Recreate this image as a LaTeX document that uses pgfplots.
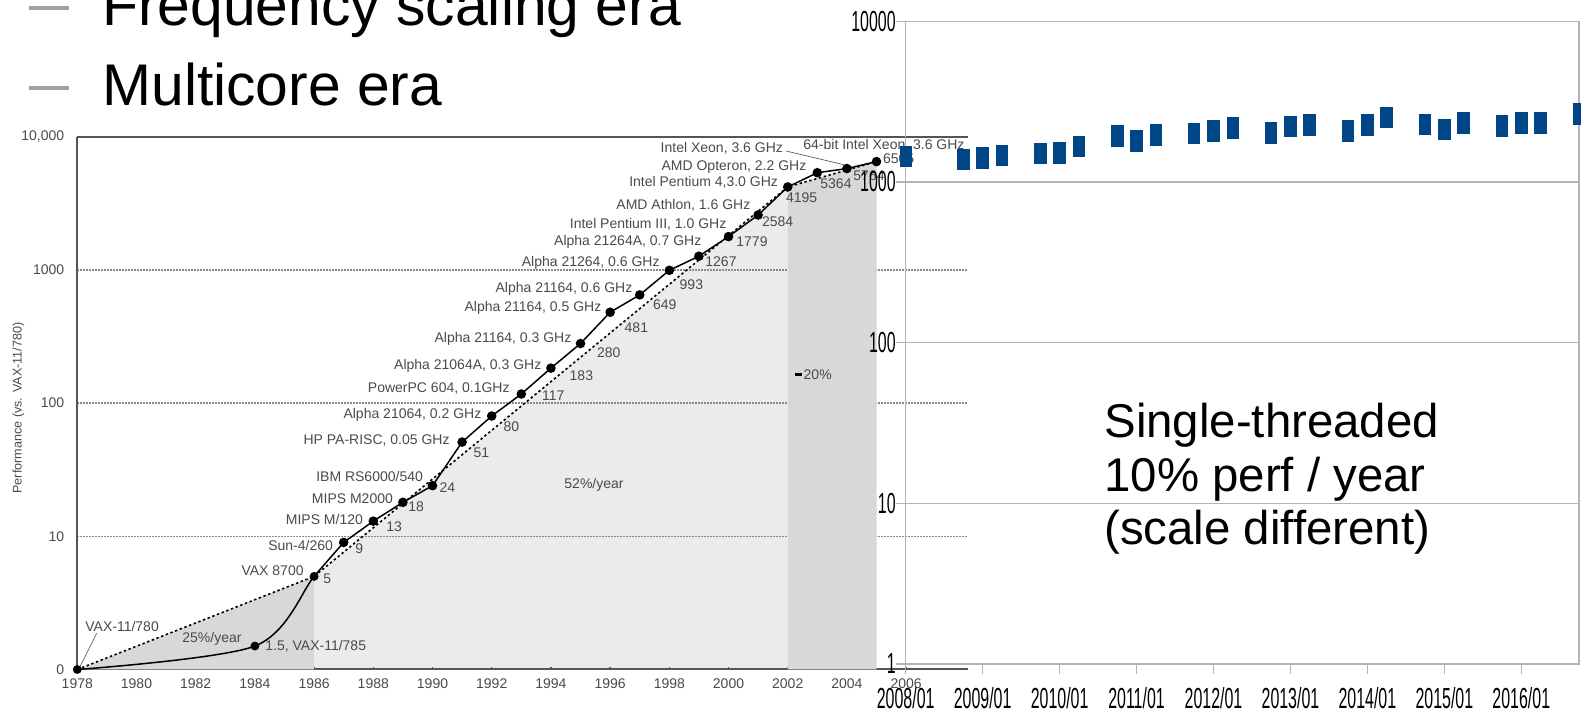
\documentclass[border=0pt]{standalone}
\usepackage{pgfplots}
\pgfplotsset{compat=1.18}
\usepackage{fontspec}
\setmainfont{Liberation Sans}
\newfontfamily\narrowfont[FakeStretch=0.55]{Liberation Sans}
\definecolor{lblgray}{HTML}{4A4A4A}
\definecolor{axgray}{HTML}{555555}
\definecolor{gridgray}{HTML}{8A8A8A}
\definecolor{lightfill}{HTML}{EBEBEB}
\definecolor{darkfill}{HTML}{D8D8D8}
\definecolor{rgray}{HTML}{B3B3B3}
\definecolor{barblue}{HTML}{004586}
\definecolor{dashgray}{HTML}{9EA3AA}
\tikzset{lbl/.style={inner sep=0pt, font=\fontsize{7}{8}\selectfont, text=lblgray}}
\begin{document}
\begin{tikzpicture}
% ---------------- left chart ----------------
\begin{axis}[
  at={(38.65pt,-334.75pt)}, anchor=south west,
  scale only axis, width=445.2pt, height=266.4pt,
  set layers,
  ymode=log, log basis y=10,
  xmin=1978, xmax=2008.08, ymin=1, ymax=10000,
  axis x line*=box, axis y line*=left,
  axis line style={draw=axgray, line width=1pt},
  xtick={1978,1980,1982,1984,1986,1988,1990,1992,1994,1996,1998,2000,2002,2004,2006},
  xticklabels={1978,1980,1982,1984,1986,1988,1990,1992,1994,1996,1998,2000,2002,2004,2006},
  ytick={1,10,100,1000,10000},
  yticklabels={0,10,100,1000,{10,000}},
  yminorticks=false,
  xtick pos=left,
  tick align=inside, major tick length=1.5pt,
  xtick style={draw=axgray, line width=0.7pt},
  ytick style={draw=none},
  ymajorgrids,
  grid style={draw=gridgray, line width=0.75pt, dash pattern=on 0.75pt off 0.75pt},
  tick label style={font=\fontsize{7}{8}\selectfont, text=lblgray},
  xticklabel style={yshift=-1pt},
  yticklabel style={xshift=-3pt},
  clip=false,
]
\addplot[draw=none, fill=lightfill, on layer=axis background] coordinates {(1986,1) (1986,5) (2002,4195) (2002,1)} -- cycle;
\addplot[draw=none, fill=darkfill] coordinates {(1978,1) (1986,5) (1986,1)} -- cycle;
\addplot[draw=none, fill=darkfill] coordinates {(2002,1) (2002,4195) (2005,6505) (2005,1)} -- cycle;
% trend lines
\addplot[black, line width=0.8pt, dash pattern=on 1.2pt off 1.3pt] coordinates {(1978,1) (1986,5) (2002,4195) (2005,6505)};
% measured performance
\addplot[black, line width=0.75pt, smooth] coordinates {(1978,1) (1984,1.5) (1986,5) (1987,9)};
\addplot[black, line width=0.75pt, mark=*, mark size=2pt] coordinates {
(1987,9) (1988,13) (1989,18) (1990,24) (1991,51) (1992,80) (1993,117) (1994,183)
(1995,280) (1996,481) (1997,649) (1998,993) (1999,1267) (2000,1779) (2001,2584)
(2002,4195) (2003,5364) (2004,5764) (2005,6505)};
\addplot[black, only marks, mark=*, mark size=2pt] coordinates {(1978,1) (1984,1.5) (1986,5)};
\end{axis}
% ---------------- left chart labels ----------------
\begin{scope}[x=0.5pt,y=-0.5pt]
\node[lbl, rotate=90, font=\fontsize{6.3}{7}\selectfont] at (18.3,408) {Performance (vs. VAX-11/780)};
\node[lbl, anchor=east] at (304,571) {VAX 8700};
\node[lbl, anchor=east] at (333.3,545) {Sun-4/260};
\node[lbl, anchor=east] at (363.3,519.3) {MIPS M/120};
\node[lbl, anchor=east] at (393.3,498.3) {MIPS M2000};
\node[lbl, anchor=east] at (423.3,476.7) {IBM RS6000/540};
\node[lbl, anchor=east] at (450,440.7) {HP PA-RISC, 0.05 GHz};
\node[lbl, anchor=east] at (481.7,415) {Alpha 21064, 0.2 GHz};
\node[lbl, anchor=east] at (510,389) {PowerPC 604, 0.1GHz};
\node[lbl, anchor=east] at (541.7,366) {Alpha 21064A, 0.3 GHz};
\node[lbl, anchor=east] at (571.7,339.3) {Alpha 21164, 0.3 GHz};
\node[lbl, anchor=east] at (601.7,308.3) {Alpha 21164, 0.5 GHz};
\node[lbl, anchor=east] at (632.7,289) {Alpha 21164, 0.6 GHz};
\node[lbl, anchor=east] at (660,262.7) {Alpha 21264, 0.6 GHz};
\node[lbl, anchor=east] at (701.7,241.7) {Alpha 21264A, 0.7 GHz};
\node[lbl, anchor=east] at (726.7,224) {Intel Pentium III, 1.0 GHz};
\node[lbl, anchor=east] at (750.7,205) {AMD Athlon, 1.6 GHz};
\node[lbl, anchor=east] at (778.3,182.7) {Intel Pentium 4,3.0 GHz};
\node[lbl, anchor=east] at (806.7,166.7) {AMD Opteron, 2.2 GHz};
\node[lbl, anchor=east] at (783.3,148.3) {Intel Xeon, 3.6 GHz};
\draw[lblgray, line width=0.3pt] (786,151) -- (845,165);
\node[lbl, anchor=west] at (803,145) {64-bit Intel Xeon, 3.6 GHz};
\node[lbl, anchor=west] at (85,626.7) {VAX-11/780};
\draw[lblgray, line width=0.3pt] (96.7,633.3) -- (80,666.7);
\node[lbl, anchor=west] at (265,646.7) {1.5, VAX-11/785};
\node[lbl, anchor=west] at (323,579) {5};
\node[lbl, anchor=west] at (355,548.3) {9};
\node[lbl, anchor=west] at (386,526.7) {13};
\node[lbl, anchor=west] at (408,506.7) {18};
\node[lbl, anchor=west] at (439.3,487.3) {24};
\node[lbl, anchor=west] at (473.3,452.7) {51};
\node[lbl, anchor=west] at (503.3,426.7) {80};
\node[lbl, anchor=west] at (541.7,396) {117};
\node[lbl, anchor=west] at (569.3,376) {183};
\node[lbl, anchor=west] at (596.7,352.3) {280};
\node[lbl, anchor=west] at (624.3,327.3) {481};
\node[lbl, anchor=west] at (652.7,304.3) {649};
\node[lbl, anchor=west] at (679.3,284.3) {993};
\node[lbl, anchor=west] at (705,261.7) {1267};
\node[lbl, anchor=west] at (736,241.7) {1779};
\node[lbl, anchor=west] at (761.7,221.7) {2584};
\node[lbl, anchor=west] at (785.7,197.3) {4195};
\node[lbl, anchor=west] at (820,183.3) {5364};
\node[lbl, anchor=west] at (853,176) {5764};
\node[lbl, anchor=west] at (882.7,158.3) {6505};
\node[lbl] at (212,639) {25\%/year};
\node[lbl] at (594,485) {52\%/year};
\draw[black, line width=1.5pt] (795,375) -- (801.7,375);
\node[lbl, anchor=west] at (803.3,375) {20\%};
\end{scope}
% ---------------- right chart ----------------
\begin{axis}[
  at={(452.85pt,-332pt)}, anchor=south west,
  scale only axis, width=336.65pt, height=321.35pt,
  ymode=log, log basis y=10,
  xmin=2008, xmax=2016.75, ymin=1, ymax=10000,
  axis line style={draw=rgray, line width=0.6pt},
  ymajorgrids, grid style={draw=rgray, line width=0.6pt},
  xtick={2008,2009,2010,2011,2012,2013,2014,2015,2016},
  xticklabels={2008/01,2009/01,2010/01,2011/01,2012/01,2013/01,2014/01,2015/01,2016/01},
  ytick={1,10,100,1000,10000},
  yticklabels={1,10,100,1000,10000},
  yminorticks=false,
  xtick pos=left, ytick pos=left,
  tick align=outside, major tick length=5pt,
  tick style={draw=rgray, line width=0.6pt},
  tick label style={font=\narrowfont\fontsize{14.5}{16}\selectfont, text=black},
  xticklabel style={yshift=-3pt},
  yticklabel style={xshift=3.5pt},
  clip=false,
]
\addplot[draw=barblue, line width=6.2pt, unbounded coords=jump] coordinates {
(2008,1240) (2008,1676) (2008,nan)
(2008.75,1182) (2008.75,1606) (2008.75,nan)
(2009,1211) (2009,1645) (2009,nan)
(2009.25,1252) (2009.25,1701) (2009.25,nan)
(2009.75,1289) (2009.75,1751) (2009.75,nan)
(2010,1295) (2010,1768) (2010,nan)
(2010.25,1432) (2010.25,1945) (2010.25,nan)
(2010.75,1661) (2010.75,2256) (2010.75,nan)
(2011,1546) (2011,2100) (2011,nan)
(2011.25,1685) (2011.25,2289) (2011.25,nan)
(2011.75,1718) (2011.75,2334) (2011.75,nan)
(2012,1776) (2012,2425) (2012,nan)
(2012.25,1854) (2012.25,2531) (2012.25,nan)
(2012.75,1735) (2012.75,2356) (2012.75,nan)
(2013,1899) (2013,2580) (2013,nan)
(2013.25,1936) (2013.25,2642) (2013.25,nan)
(2013.75,1776) (2013.75,2437) (2013.75,nan)
(2014,1936) (2014,2642) (2014,nan)
(2014.25,2172) (2014.25,2936) (2014.25,nan)
(2014.75,1955) (2014.75,2668) (2014.75,nan)
(2015,1819) (2015,2483) (2015,nan)
(2015.25,2002) (2015.25,2733) (2015.25,nan)
(2015.75,1918) (2015.75,2618) (2015.75,nan)
(2016,2002) (2016,2733) (2016,nan)
(2016.25,2002) (2016.25,2733) (2016.25,nan)
(2016.75,2267) (2016.75,3094)
};
\end{axis}
% ---------------- slide text ----------------
\begin{scope}[x=0.5pt,y=-0.5pt]
\draw[dashgray, line width=2pt] (29,8.5) -- (69,8.5);
\draw[dashgray, line width=2pt] (29,88.5) -- (69,88.5);
\node[inner sep=0pt, anchor=base west, font=\fontsize{29.4}{34}\selectfont] at (102,26) {Frequency scaling era};
\node[inner sep=0pt, anchor=base west, font=\fontsize{29.4}{34}\selectfont] at (102,106) {Multicore era};
\node[inner sep=0pt, anchor=base west, font=\fontsize{23.7}{28}\selectfont] at (1104,437.3) {Single-threaded};
\node[inner sep=0pt, anchor=base west, font=\fontsize{23.7}{28}\selectfont] at (1104,491.7) {10\% perf / year};
\node[inner sep=0pt, anchor=base west, font=\fontsize{23.7}{28}\selectfont] at (1104,545) {(scale different)};
\end{scope}
\pgfresetboundingbox
\useasboundingbox (0pt,0pt) rectangle (790.5pt,-358pt);
\end{tikzpicture}
\end{document}
